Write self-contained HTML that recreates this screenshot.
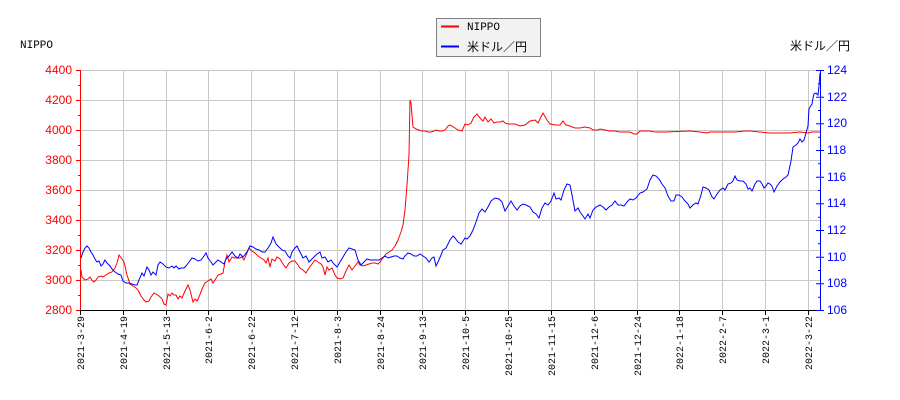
<!DOCTYPE html>
<html><head><meta charset="utf-8"><style>body{margin:0;background:#fff}svg{display:block}</style></head><body>
<svg width="900" height="400" xmlns="http://www.w3.org/2000/svg" font-family="Liberation Sans, DejaVu Sans, sans-serif">
<rect width="900" height="400" fill="#fff"/>
<g stroke="#c8c8c8" stroke-width="1">
<line x1="80" y1="70.5" x2="820" y2="70.5"/><line x1="80" y1="100.5" x2="820" y2="100.5"/><line x1="80" y1="130.5" x2="820" y2="130.5"/><line x1="80" y1="160.5" x2="820" y2="160.5"/><line x1="80" y1="190.5" x2="820" y2="190.5"/><line x1="80" y1="220.5" x2="820" y2="220.5"/><line x1="80" y1="250.5" x2="820" y2="250.5"/><line x1="80" y1="280.5" x2="820" y2="280.5"/>
<line x1="123.5" y1="70" x2="123.5" y2="310"/><line x1="166.5" y1="70" x2="166.5" y2="310"/><line x1="208.5" y1="70" x2="208.5" y2="310"/><line x1="251.5" y1="70" x2="251.5" y2="310"/><line x1="294.5" y1="70" x2="294.5" y2="310"/><line x1="337.5" y1="70" x2="337.5" y2="310"/><line x1="380.5" y1="70" x2="380.5" y2="310"/><line x1="422.5" y1="70" x2="422.5" y2="310"/><line x1="465.5" y1="70" x2="465.5" y2="310"/><line x1="508.5" y1="70" x2="508.5" y2="310"/><line x1="551.5" y1="70" x2="551.5" y2="310"/><line x1="594.5" y1="70" x2="594.5" y2="310"/><line x1="637.5" y1="70" x2="637.5" y2="310"/><line x1="679.5" y1="70" x2="679.5" y2="310"/><line x1="722.5" y1="70" x2="722.5" y2="310"/><line x1="765.5" y1="70" x2="765.5" y2="310"/><line x1="808.5" y1="70" x2="808.5" y2="310"/>
</g>
<polyline fill="none" stroke="#f00" stroke-width="1" points="81,270 82,277 85,280 88,279 90,277 92,280 94,282 96,280 98,277 101,276 103,277 106,275 109,273 112,272 115,268 117,263 119,255 122,259 124,262 127,275 130,284 133,286 136,288 138,290 141,296 144,300 146,302 149,301 151,297 154,293 156,294 159,296 162,299 164,304 166,305 168,294 170,296 172,293 174,295 176,295 178,299 180,296 182,298 185,291 188,285 190,290 193,302 195,299 197,301 199,297 202,289 205,283 208,281 211,279 213,283 215,280 218,275 221,274 223,273 225,262 227,255 229,262 232,257 235,258 238,258 240,258 242,257 244,260 247,253 249,248 252,251 255,253 258,256 261,258 264,260 266,263 268,258 270,267 272,259 275,261 277,257 280,259 283,264 286,268 289,263 292,261 295,261 298,265 300,268 303,270 306,273 309,268 312,264 315,260 318,262 321,264 323,267 325,275 327,267 329,270 332,268 335,275 337,278 340,279 343,278 346,271 349,265 352,270 355,266 358,262 360,265 363,266 366,265 369,264 372,263 375,263 378,264 380,262 383,258 386,254 389,252 392,250 395,246 398,240 401,232 403,225 405,210 407,185 409,155 410,100 411,103 413,127 416,129 419,130 422,131 425,131 428,132 431,132 434,131 436,130 439,131 442,131 445,130 448,126 450,125 455,128 458,130 462,131 465,124 468,125 471,123 474,117 477,114 480,118 483,121 485,117 488,122 491,119 494,123 497,122 500,122 503,121 505,123 508,124 515,124 520,126 525,125 530,121 535,120 538,123 541,117 543,113 547,120 550,124 555,125 560,125 563,121 566,125 570,126 575,128 580,128 585,127 590,128 593,130 598,130 600,129 605,130 610,131 615,131 620,132 625,132 630,132 634,134 637,134 640,131 650,131 655,132 665,132 690,131 700,132 707,133 710,132 720,132 735,132 745,131 750,131 760,132 770,133 790,133 800,132 808,133 812,132 820,132"/>
<polyline fill="none" stroke="#00f" stroke-width="1" points="81,258 83,252 85,248 87,246 89,248 91,252 93,255 95,259 97,262 99,261 101,266 103,264 105,260 107,263 110,266 112,269 115,272 118,274 121,275 123,281 126,283 129,283 132,284 135,285 137,285 139,280 142,273 144,276 147,267 149,270 151,275 153,272 156,275 158,265 160,262 163,264 166,267 169,268 172,266 174,268 176,266 179,269 181,268 184,268 186,266 189,262 192,258 195,259 198,261 201,260 204,256 206,253 208,258 211,262 213,265 216,262 218,260 221,262 224,264 226,259 229,256 232,252 235,256 238,258 240,254 243,257 247,252 250,246 253,247 256,249 259,250 262,252 265,252 268,248 271,243 273,237 276,244 279,247 282,250 285,251 288,256 290,258 292,252 295,248 297,246 300,252 303,258 306,256 309,262 311,260 314,257 317,254 320,252 322,258 325,257 328,262 331,260 334,264 337,267 340,262 343,257 346,252 349,248 352,249 355,250 358,260 361,265 364,262 367,259 370,260 373,260 376,260 379,260 382,258 385,256 388,258 391,257 394,256 397,256 400,258 403,259 405,256 408,253 411,254 414,256 417,256 420,254 423,256 426,258 429,262 432,258 434,257 436,266 438,262 441,255 443,250 446,248 450,240 453,236 455,238 458,242 461,244 463,241 465,238 467,239 470,236 473,230 476,222 479,213 482,209 485,212 488,207 491,201 495,198 499,199 502,202 505,211 508,206 511,201 514,206 517,210 520,206 523,204 526,205 530,207 533,212 536,214 539,218 542,208 545,203 548,205 551,201 554,193 556,199 559,198 561,200 564,190 567,184 570,185 572,195 575,211 578,208 580,212 583,216 585,219 588,214 590,218 593,210 596,207 600,205 603,207 606,210 609,207 612,205 615,201 618,205 621,205 624,206 627,202 630,199 633,200 636,198 640,193 643,192 647,189 650,180 653,175 656,176 659,179 662,184 665,188 668,196 671,201 674,201 676,195 679,195 682,197 685,201 688,204 690,208 693,205 696,203 698,204 701,195 703,187 706,188 709,190 712,197 714,199 717,194 720,190 723,188 725,190 728,184 731,183 733,181 735,176 737,180 740,181 743,181 746,184 748,189 750,188 752,191 755,184 757,181 760,181 762,184 764,188 766,186 768,183 770,184 772,186 774,192 777,186 780,182 783,179 786,177 788,175 791,161 793,147 796,145 798,143 800,139 802,142 804,140 806,133 808,126 809,109 810,107 812,104 813,98 814,94 816,93 818,95 819,86 820,73"/>
<line x1="80" y1="310.5" x2="820" y2="310.5" stroke="#000"/>
<line x1="80.5" y1="70" x2="80.5" y2="311" stroke="#f00"/>
<line x1="820.5" y1="70" x2="820.5" y2="311" stroke="#00f"/>
<g stroke="#f00"><path d="M76 70.5h4M76 100.5h4M76 130.5h4M76 160.5h4M76 190.5h4M76 220.5h4M76 250.5h4M76 280.5h4M76 310.5h4M78 85.5h2M78 115.5h2M78 145.5h2M78 175.5h2M78 205.5h2M78 235.5h2M78 265.5h2M78 295.5h2"/></g>
<g stroke="#00f"><path d="M816 70.5h8M816 97.2h8M816 123.8h8M816 150.5h8M816 177.2h8M816 203.8h8M816 230.5h8M816 257.2h8M816 283.8h8M816 310.5h8M818 83.8h2M818 110.5h2M818 137.2h2M818 163.8h2M818 190.5h2M818 217.2h2M818 243.8h2M818 270.5h2M818 297.2h2"/></g>
<g stroke="#000"><path d="M80.5 310v5M123.5 310v5M166.5 310v5M208.5 310v5M251.5 310v5M294.5 310v5M337.5 310v5M380.5 310v5M422.5 310v5M465.5 310v5M508.5 310v5M551.5 310v5M594.5 310v5M637.5 310v5M679.5 310v5M722.5 310v5M765.5 310v5M808.5 310v5"/></g>
<g fill="#f00" font-size="12" text-anchor="end">
<text x="72" y="74">4400</text><text x="72" y="104">4200</text><text x="72" y="134">4000</text><text x="72" y="164">3800</text><text x="72" y="194">3600</text><text x="72" y="224">3400</text><text x="72" y="254">3200</text><text x="72" y="284">3000</text><text x="72" y="314">2800</text>
</g>
<g fill="#00f" font-size="12">
<text x="827" y="74">124</text><text x="827" y="101">122</text><text x="827" y="127">120</text><text x="827" y="154">118</text><text x="827" y="181">116</text><text x="827" y="207">114</text><text x="827" y="234">112</text><text x="827" y="261">110</text><text x="827" y="287">108</text><text x="827" y="314">106</text>
</g>
<g fill="#000" font-size="10" text-anchor="end" font-family="Liberation Mono, DejaVu Sans Mono, monospace">
<text transform="translate(84,316) rotate(-90)">2021-3-29</text>
<text transform="translate(127,316) rotate(-90)">2021-4-19</text>
<text transform="translate(170,316) rotate(-90)">2021-5-13</text>
<text transform="translate(212,316) rotate(-90)">2021-6-2</text>
<text transform="translate(255,316) rotate(-90)">2021-6-22</text>
<text transform="translate(298,316) rotate(-90)">2021-7-12</text>
<text transform="translate(341,316) rotate(-90)">2021-8-3</text>
<text transform="translate(384,316) rotate(-90)">2021-8-24</text>
<text transform="translate(426,316) rotate(-90)">2021-9-13</text>
<text transform="translate(469,316) rotate(-90)">2021-10-5</text>
<text transform="translate(512,316) rotate(-90)">2021-10-25</text>
<text transform="translate(555,316) rotate(-90)">2021-11-15</text>
<text transform="translate(598,316) rotate(-90)">2021-12-6</text>
<text transform="translate(641,316) rotate(-90)">2021-12-24</text>
<text transform="translate(683,316) rotate(-90)">2022-1-18</text>
<text transform="translate(726,316) rotate(-90)">2022-2-7</text>
<text transform="translate(769,316) rotate(-90)">2022-3-1</text>
<text transform="translate(812,316) rotate(-90)">2022-3-22</text>
</g>
<text x="20" y="48" font-size="11" font-family="Liberation Mono, monospace" fill="#000">NIPPO</text>
<text x="850" y="50" font-size="12" text-anchor="end" fill="#000" font-family="Liberation Sans, Noto Sans CJK JP, sans-serif">米ドル／円</text>
<rect x="436.5" y="18.5" width="104" height="38" fill="#f2f2f2" stroke="#808080"/>
<line x1="441" y1="26.5" x2="459" y2="26.5" stroke="#f00" stroke-width="2"/>
<line x1="441" y1="46.5" x2="459" y2="46.5" stroke="#00f" stroke-width="2"/>
<text x="467" y="30" font-size="11" font-family="Liberation Mono, monospace" fill="#000">NIPPO</text>
<text x="467" y="51" font-size="12" fill="#000" font-family="Liberation Sans, Noto Sans CJK JP, sans-serif">米ドル／円</text>
</svg>
</body></html>
